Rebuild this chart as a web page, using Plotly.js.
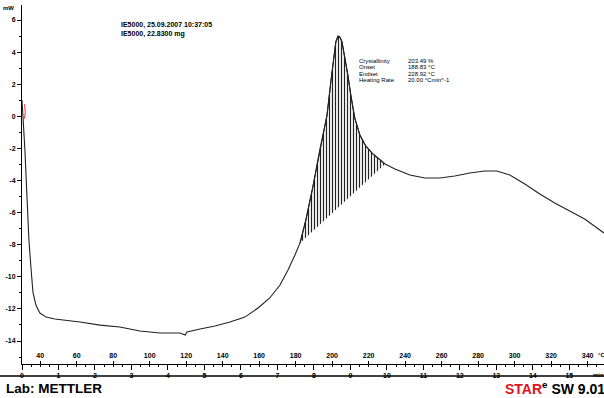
<!DOCTYPE html>
<html>
<head>
<meta charset="utf-8">
<script src="https://cdn.plot.ly/plotly-3.0.1.min.js"></script>
<style>html,body{margin:0;padding:0;background:#fff;}#chart{width:604px;height:398px;}</style>
</head>
<body>
<div id="chart"></div>
<script>
// ---- data (time in min, heat flow in mW) ----
const timeMin = [0, 0.03, 0.08, 0.14, 0.19, 0.25, 0.30, 0.38, 0.49, 0.66, 0.90, 1.59, 2.14, 2.68, 3.23, 3.78, 4.33, 4.47, 4.52, 4.88, 5.29, 5.70, 6.11, 6.47, 6.79, 7.07, 7.29, 7.48, 7.62, 7.78, 7.97, 8.16, 8.36, 8.47, 8.55, 8.60, 8.66, 8.71, 8.77, 8.85, 8.93, 9.01, 9.12, 9.26, 9.42, 9.62, 9.81, 9.95, 10.22, 10.63, 11.04, 11.45, 11.86, 12.27, 12.68, 13.01, 13.37, 13.78, 14.19, 14.60, 15.01, 15.42, 15.95];
const heatFlow = [1.02, 0.08, -2.10, -5.21, -7.71, -9.58, -10.95, -11.76, -12.26, -12.51, -12.63, -12.82, -13.01, -13.13, -13.38, -13.50, -13.50, -13.63, -13.44, -13.25, -13.07, -12.82, -12.51, -11.94, -11.32, -10.51, -9.58, -8.64, -7.89, -6.46, -4.41, -2.10, 0.08, 2.26, 3.82, 4.63, 5.00, 4.94, 4.63, 3.63, 2.57, 1.33, -0.11, -1.17, -1.85, -2.35, -2.72, -2.97, -3.28, -3.66, -3.84, -3.84, -3.72, -3.53, -3.41, -3.41, -3.66, -4.22, -4.84, -5.40, -5.90, -6.40, -7.27];
const integrationStartMin = 7.62;
const integrationEndMin = 9.95;
const startTemp = 30;      // °C at t = 0
const heatingRate = 20;    // °C/min
const timeTicks = [0,1,2,3,4,5,6,7,8,9,10,11,12,13,14,15];
const tempTicks = [40,60,80,100,120,140,160,180,200,220,240,260,280,300,320,340];
const yTicks = [6,4,2,0,-2,-4,-6,-8,-10,-12,-14];
const yTickText = ["6","4","2","0","-2","-4","-6","-8","-10","-12","-14"];
const markerT = [0.07, 0.09, 0.07];
const markerV = [0.75, 0.25, -0.15];
const headerLines = ["IE5000, 25.09.2007 10:37:05", "IE5000, 22.8300 mg"];
const resultLabels = ["Crystallinity", "Onset", "Endset", "Heating Rate"];
const resultValues = ["203.49 %", "188.83 °C", "228.92 °C", "20.00 °Cmin^-1"];

// ---- geometry helpers (pixel -> paper) ----
const L = 22, T = 5, W = 582, H = 359;
const px = x => (x - L) / W;
const py = y => (T + H - y) / H;

const i0 = timeMin.indexOf(integrationStartMin);
const i1 = timeMin.indexOf(integrationEndMin);
const hatchT = timeMin.slice(i0, i1 + 1);
const hatchV = heatFlow.slice(i0, i1 + 1);

const tMax = 15.95;
const font = "Liberation Sans, Arial, sans-serif";

const traces = [
  {x: hatchT, y: hatchV, mode: 'lines', fill: 'toself', xaxis: 'x', yaxis: 'y',
   line: {color: '#111', width: 1},
   fillpattern: {shape: '|', size: 3, solidity: 0.4, fgcolor: '#222', bgcolor: '#fff'},
   fillcolor: '#fff', hoverinfo: 'skip'},
  {x: timeMin, y: heatFlow, mode: 'lines', line: {color: '#222', width: 1.1}, xaxis: 'x', yaxis: 'y'},
  {x: markerT, y: markerV, mode: 'lines', line: {color: '#e03030', width: 1}, xaxis: 'x', yaxis: 'y'},
  {x: [startTemp, startTemp + heatingRate * tMax], y: [null, null], mode: 'lines', xaxis: 'x2', yaxis: 'y', showlegend: false}
];

const annotations = [];
headerLines.forEach((s, k) => annotations.push({
  xref: 'paper', yref: 'paper', x: px(119), y: py(25 + k * 8.5), xanchor: 'left', yanchor: 'middle',
  text: '<b>' + s + '</b>', showarrow: false, font: {family: font, size: 7, color: '#000'}
}));
resultLabels.forEach((s, k) => {
  annotations.push({xref: 'paper', yref: 'paper', x: px(357), y: py(61 + k * 6.3), xanchor: 'left', yanchor: 'middle',
    text: s, showarrow: false, font: {family: font, size: 6, color: '#000'}});
  annotations.push({xref: 'paper', yref: 'paper', x: px(406), y: py(61 + k * 6.3), xanchor: 'left', yanchor: 'middle',
    text: resultValues[k], showarrow: false, font: {family: font, size: 6, color: '#000'}});
});
annotations.push({xref: 'paper', yref: 'paper', x: px(16), y: py(8), xanchor: 'right', yanchor: 'middle',
  text: '<b>mW</b>', showarrow: false, font: {family: font, size: 6, color: '#000'}});
annotations.push({xref: 'paper', yref: 'paper', x: px(591), y: py(375), xanchor: 'left', yanchor: 'middle',
  text: '<b>min</b>', showarrow: false, font: {family: font, size: 6, color: '#000'}});
annotations.push({xref: 'paper', yref: 'paper', x: px(596), y: py(355), xanchor: 'left', yanchor: 'middle',
  text: '<b>°C</b>', showarrow: false, font: {family: font, size: 6, color: '#000'}});
annotations.push({xref: 'paper', yref: 'paper', x: px(4), y: py(388), xanchor: 'left', yanchor: 'middle',
  text: '<b>Lab: METTLER</b>', showarrow: false, font: {family: font, size: 13.5, color: '#000'}});
annotations.push({xref: 'paper', yref: 'paper', x: px(503), y: py(388), xanchor: 'left', yanchor: 'middle',
  text: '<b><span style="color:#e0141e">STAR</span><sup>e</sup> SW 9.01</b>', showarrow: false,
  font: {family: font, size: 14, color: '#000'}});

const layout = {
  width: 604, height: 398,
  margin: {l: L, r: 604 - L - W, t: T, b: 398 - T - H, pad: 0},
  paper_bgcolor: '#fff', plot_bgcolor: '#fff',
  showlegend: false,
  font: {family: font, color: '#000'},
  xaxis: {range: [0, tMax], tickvals: timeTicks, ticks: 'outside', ticklen: 5, tickwidth: 1, tickcolor: '#000',
    showline: true, linecolor: '#000', linewidth: 1, showgrid: false, zeroline: false,
    tickfont: {family: font, size: 7, color: '#000', weight: 'bold'},
    minor: {dtick: 0.25, ticks: 'outside', ticklen: 2, tickcolor: '#000', showgrid: false}},
  xaxis2: {overlaying: 'x', anchor: 'free', position: 0, side: 'top',
    range: [startTemp, startTemp + heatingRate * tMax], tickvals: tempTicks,
    ticks: 'outside', ticklen: 3, tickcolor: '#000', showline: false, showgrid: false, zeroline: false,
    tickfont: {family: font, size: 7, color: '#000', weight: 'bold'}},
  yaxis: {range: [(116.3 - (T + H)) / 16.05, (116.3 - T) / 16.05], tickvals: yTicks, ticktext: yTickText,
    ticks: 'outside', ticklen: 4, tickcolor: '#000', showline: true, linecolor: '#000', linewidth: 1,
    showgrid: false, zeroline: false,
    tickfont: {family: font, size: 7, color: '#000', weight: 'bold'},
    minor: {dtick: 1, ticks: 'outside', ticklen: 2, tickcolor: '#000', showgrid: false}},
  shapes: [
    {type: 'line', xref: 'paper', yref: 'paper', x0: px(0), x1: 1, y0: py(376), y1: py(376),
     line: {color: '#000', width: 1.3}}
  ],
  annotations: annotations
};

Plotly.newPlot('chart', traces, layout, {staticPlot: true, displayModeBar: false});
</script>
</body>
</html>
